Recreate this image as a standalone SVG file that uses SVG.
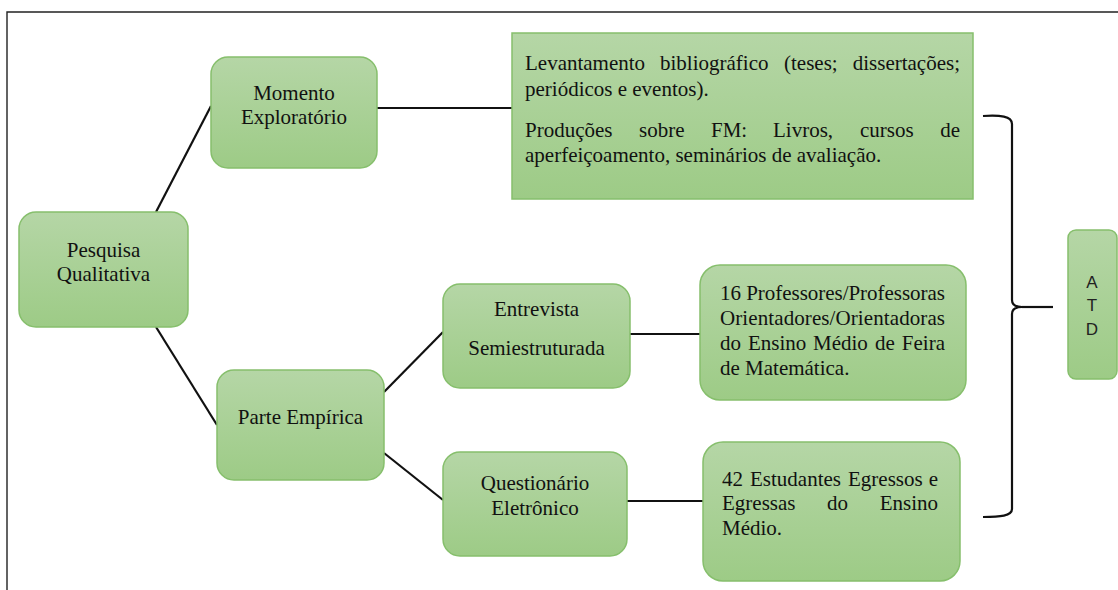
<svg xmlns="http://www.w3.org/2000/svg" width="1118" height="590" viewBox="0 0 1118 590">
  <defs>
    <linearGradient id="g" x1="0" y1="0" x2="0" y2="1">
      <stop offset="0" stop-color="#b5d6a6"/>
      <stop offset="1" stop-color="#9dcb86"/>
    </linearGradient>
    <style>
      .box{fill:url(#g);stroke:#86bf6c;stroke-width:1.5}
      .t{font-family:"Liberation Serif","Times New Roman",serif;font-size:21px;fill:#111}
      .c{text-anchor:middle}
      .s{font-family:"Liberation Sans",Arial,sans-serif;font-size:17px;fill:#222;text-anchor:middle}
      .ln{stroke:#111;stroke-width:2.2;fill:none}
    </style>
  </defs>
  <rect width="1118" height="590" fill="#ffffff"/>
  <path d="M7,590 L7,12 L1118,12" fill="none" stroke="#222" stroke-width="1.4"/>

  <g id="connectors">
    <line class="ln" x1="156" y1="212" x2="211" y2="106"/>
    <line class="ln" x1="156" y1="327" x2="217" y2="425"/>
    <line class="ln" x1="377" y1="108" x2="512" y2="108"/>
    <line class="ln" x1="384" y1="392" x2="443" y2="332"/>
    <line class="ln" x1="384" y1="453" x2="443" y2="500"/>
    <line class="ln" x1="630" y1="334" x2="700" y2="334"/>
    <line class="ln" x1="627" y1="501" x2="703" y2="501"/>
    <path class="ln" d="M983,116 C1000,115 1012,116 1012,124 L1012,300 C1012,305 1016,307 1022,307 C1016,307 1012,309 1012,314 L1012,509 C1012,516 1000,517 983,517"/>
    <line class="ln" x1="1022" y1="307" x2="1053" y2="307"/>
  </g>

  <g id="pesquisa">
    <rect class="box" x="19" y="212" width="169" height="115" rx="17"/>
    <text class="t c" x="103.5" y="257">Pesquisa</text>
    <text class="t c" x="103.5" y="281">Qualitativa</text>
  </g>

  <g id="momento">
    <rect class="box" x="211" y="57" width="166" height="111" rx="17"/>
    <text class="t c" x="294" y="100">Momento</text>
    <text class="t c" x="294" y="124">Exploratório</text>
  </g>

  <g id="levantamento">
    <rect class="box" x="512" y="33" width="461" height="166"/>
    <text class="t" y="70"><tspan x="525">Levantamento</tspan><tspan x="660">bibliográfico</tspan><tspan x="784">(teses;</tspan><tspan x="960" text-anchor="end">dissertações;</tspan></text>
    <text class="t" x="525" y="96">periódicos e eventos).</text>
    <text class="t" y="137"><tspan x="525">Produções</tspan><tspan x="639">sobre</tspan><tspan x="711">FM:</tspan><tspan x="773">Livros,</tspan><tspan x="860">cursos</tspan><tspan x="960" text-anchor="end">de</tspan></text>
    <text class="t" x="525" y="162">aperfeiçoamento, seminários de avaliação.</text>
  </g>

  <g id="parte">
    <rect class="box" x="217" y="370" width="167" height="110" rx="17"/>
    <text class="t c" x="300.5" y="424">Parte Empírica</text>
  </g>

  <g id="entrevista">
    <rect class="box" x="443" y="284" width="187" height="104" rx="17"/>
    <text class="t c" x="536.5" y="316">Entrevista</text>
    <text class="t c" x="536.5" y="355">Semiestruturada</text>
  </g>

  <g id="questionario">
    <rect class="box" x="443" y="452" width="184" height="104" rx="17"/>
    <text class="t c" x="535" y="490">Questionário</text>
    <text class="t c" x="535" y="515">Eletrônico</text>
  </g>

  <g id="professores">
    <rect class="box" x="700" y="265" width="266" height="135" rx="20"/>
    <text class="t" x="720" y="300" textLength="225" lengthAdjust="spacing">16 Professores/Professoras</text>
    <text class="t" x="720" y="325" textLength="225" lengthAdjust="spacing">Orientadores/Orientadoras</text>
    <text class="t" y="350"><tspan x="720">do</tspan><tspan x="748">Ensino</tspan><tspan x="813">Médio</tspan><tspan x="875">de</tspan><tspan x="945" text-anchor="end">Feira</tspan></text>
    <text class="t" x="720" y="375">de Matemática.</text>
  </g>

  <g id="estudantes">
    <rect class="box" x="703" y="442" width="257" height="139" rx="20"/>
    <text class="t" y="486"><tspan x="722">42</tspan><tspan x="750">Estudantes</tspan><tspan x="848">Egressos</tspan><tspan x="938" text-anchor="end">e</tspan></text>
    <text class="t" y="510"><tspan x="722">Egressas</tspan><tspan x="827">do</tspan><tspan x="938" text-anchor="end">Ensino</tspan></text>
    <text class="t" x="722" y="535">Médio.</text>
  </g>

  <g id="atd">
    <rect class="box" x="1068" y="230" width="49" height="149" rx="8"/>
    <text class="s" x="1092" y="288">A</text>
    <text class="s" x="1092" y="311">T</text>
    <text class="s" x="1092" y="335">D</text>
  </g>
</svg>
